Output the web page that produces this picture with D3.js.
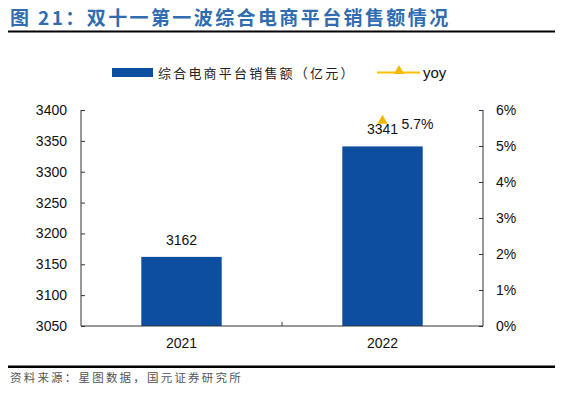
<!DOCTYPE html>
<html><head><meta charset="utf-8">
<script src="https://cdn.jsdelivr.net/npm/d3@7"></script>
<style>body{margin:0;background:#fff}svg{display:block}</style>
</head><body>
<svg id="c" width="563" height="393"></svg>
<script>
const categories = ["2021", "2022"];
const sales = [3162, 3341];
const yoy = [null, 5.7];
const leftTicks = [3050, 3100, 3150, 3200, 3250, 3300, 3350, 3400];
const rightTicks = [0, 1, 2, 3, 4, 5, 6];
const titleText = "图 21：双十一第一波综合电商平台销售额情况";
const legendBar = "综合电商平台销售额（亿元）";
const legendLine = "yoy";
const sourceText = "资料来源：星图数据，国元证券研究所";

const svg = d3.select("#c");
const L = 81, R = 483, T = 110, B = 326;
const blue = "#0d4ea1", gold = "#f5b800", axisCol = "#333";
const fnt = "'Liberation Sans', Arial, sans-serif";
const cjk = "'Noto Sans CJK SC', sans-serif";

// title
svg.append("text").attr("x", 10).attr("y", 25).attr("fill", "#2f6cb0")
  .attr("font-family", cjk).attr("font-weight", "bold").attr("font-size", 19)
  .attr("letter-spacing", 2.4).text(titleText);
svg.append("line").attr("x1", 8).attr("x2", 555).attr("y1", 31.5).attr("y2", 31.5)
  .attr("stroke", "#000").attr("stroke-width", 2);

const x = d3.scaleBand().domain(categories).range([L, R]).paddingInner(0.6).paddingOuter(0.3);
const y = d3.scaleLinear().domain([3050, 3400]).range([B, T]);
const y2 = d3.scaleLinear().domain([0, 6]).range([B, T]);

// bars
svg.selectAll("rect.bar").data(categories).enter().append("rect").attr("class", "bar")
  .attr("x", d => x(d)).attr("width", x.bandwidth())
  .attr("y", (d, i) => y(sales[i])).attr("height", (d, i) => B - y(sales[i]))
  .attr("fill", blue);

// axes
const ga = svg.append("g").attr("transform", `translate(${L},0)`)
  .call(d3.axisLeft(y).tickValues(leftTicks).tickSize(-4).tickPadding(14).tickFormat(d3.format("d")));
const gb = svg.append("g").attr("transform", `translate(${R},0)`)
  .call(d3.axisRight(y2).tickValues(rightTicks).tickSize(-4).tickPadding(13).tickFormat(d => d + "%"));
const gc = svg.append("g").attr("transform", `translate(0,${B})`)
  .call(d3.axisBottom(x).tickSize(0).tickPadding(12));
gc.append("line").attr("x1", x("2022") - x.step() * 0.3).attr("x2", x("2022") - x.step() * 0.3)
  .attr("y1", 0).attr("y2", -4).attr("stroke", axisCol);

[ga, gb, gc].forEach(g => {
  g.selectAll("line").attr("stroke", axisCol);
  g.selectAll("text").attr("font-family", fnt).attr("font-size", 14).attr("fill", "#111");
});
ga.select(".domain").attr("stroke", axisCol).attr("d", `M0,${T}V${B}`);
gb.select(".domain").attr("stroke", axisCol).attr("d", `M0,${T}V${B}`);
gc.select(".domain").attr("stroke", axisCol).attr("d", `M${L},0H${R}`);

// bar labels
svg.selectAll("text.lbl").data(categories).enter().append("text").attr("class", "lbl")
  .attr("x", (d, i) => x(d) + x.bandwidth() / 2).attr("y", (d, i) => y(sales[i]) - 12)
  .attr("text-anchor", "middle").attr("font-family", fnt).attr("font-size", 14).attr("fill", "#111")
  .text((d, i) => sales[i]);

// yoy points
const tri = d3.symbol().type(d3.symbolTriangle).size(46);
categories.forEach((c, i) => {
  if (yoy[i] == null) return;
  const cx = x(c) + x.bandwidth() / 2, cy = y2(yoy[i]);
  svg.append("path").attr("d", tri).attr("transform", `translate(${cx},${cy})`).attr("fill", gold);
  svg.append("text").attr("x", cx + 19).attr("y", cy + 8).attr("font-family", fnt)
    .attr("font-size", 14).attr("fill", "#111").text(yoy[i] + "%");
});

// legend
svg.append("rect").attr("x", 112).attr("y", 68).attr("width", 41).attr("height", 9).attr("fill", blue);
svg.append("text").attr("x", 158).attr("y", 77.5).attr("font-family", cjk).attr("font-size", 13)
  .attr("letter-spacing", 2.2).attr("fill", "#222").text(legendBar);
svg.append("line").attr("x1", 377).attr("x2", 420).attr("y1", 72.5).attr("y2", 72.5)
  .attr("stroke", "#ffc000").attr("stroke-width", 2);
svg.append("path").attr("d", tri).attr("transform", "translate(399,71)").attr("fill", gold);
svg.append("text").attr("x", 423).attr("y", 77.5).attr("font-family", fnt).attr("font-size", 15)
  .attr("fill", "#111").text(legendLine);

// footer
svg.append("line").attr("x1", 8).attr("x2", 555).attr("y1", 366.8).attr("y2", 366.8)
  .attr("stroke", "#000").attr("stroke-width", 2.5);
svg.append("text").attr("x", 10).attr("y", 381.5).attr("font-family", cjk).attr("font-size", 11.5)
  .attr("letter-spacing", 2.2).attr("fill", "#555").text(sourceText);
</script>
</body></html>
